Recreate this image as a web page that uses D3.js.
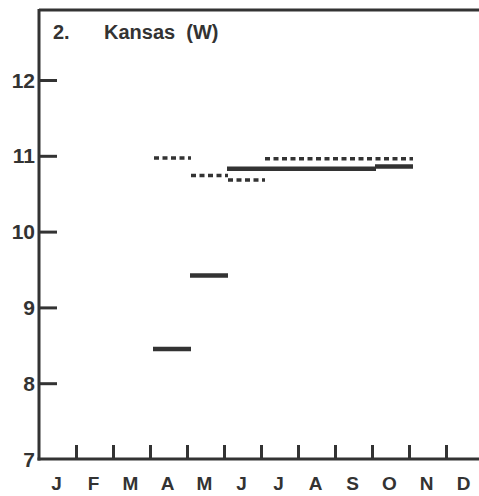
<!DOCTYPE html>
<html>
<head>
<meta charset="utf-8">
<title>Kansas (W)</title>
<script src="https://d3js.org/d3.v7.min.js"></script>
<style>
  body { margin: 0; background: #fff; }
  text { font-family: "Liberation Sans", Arial, sans-serif; font-weight: bold; fill: #333; }
  .axis line, .axis path { stroke: #333; }
</style>
</head>
<body>
<svg id="chart" width="479" height="496"></svg>
<script>
// month labels along the bottom
const months = ["J", "F", "M", "A", "M", "J", "J", "A", "S", "O", "N", "D"];
// y tick labels
const yTicks = [7, 8, 9, 10, 11, 12];
// solid series, one value per month (null = no data)
const solidValues = [null, null, null, 8.45, 9.42, 10.83, 10.83, 10.83, 10.83, 10.86, null, null];
// dotted series, one value per month
const dottedValues = [null, null, null, 10.97, 10.74, 10.68, 10.96, 10.96, 10.96, 10.96, null, null];

const svg = d3.select("#chart");
const ink = "#333";

const x = d3.scaleLinear().domain([0, 12]).range([39, 483]);
const y = d3.scaleLinear().domain([7, 12]).range([459, 80]);

// group consecutive months with the same value into one segment
function segments(values) {
  const out = [];
  values.forEach((v, i) => {
    if (v == null) return;
    const last = out[out.length - 1];
    if (last && last.end === i && last.v === v) last.end = i + 1;
    else out.push({ start: i, end: i + 1, v: v });
  });
  return out;
}

// frame: top line and left axis
svg.append("line")
  .attr("x1", x(0)).attr("x2", 479)
  .attr("y1", 10).attr("y2", 10)
  .attr("stroke", ink).attr("stroke-width", 3);

// left axis, ticks drawn inward
const yAxis = d3.axisRight(y).tickValues(yTicks.slice(1)).tickSize(18).tickFormat("");
const yg = svg.append("g").attr("class", "axis")
  .attr("transform", `translate(${x(0)},0)`)
  .call(yAxis);
yg.select(".domain").remove();
yg.selectAll("line").attr("stroke-width", 3);
svg.append("line")
  .attr("x1", x(0)).attr("x2", x(0))
  .attr("y1", 9).attr("y2", y(7) + 1.5)
  .attr("stroke", ink).attr("stroke-width", 3);

svg.selectAll(".ylab")
  .data(yTicks)
  .enter().append("text")
  .attr("class", "ylab")
  .attr("x", 35)
  .attr("y", d => y(d) + 7.5)
  .attr("text-anchor", "end")
  .attr("font-size", 21)
  .text(d => d);

// bottom axis, ticks pointing up
const xAxis = d3.axisTop(x).tickValues(d3.range(1, 12)).tickSize(14).tickFormat("");
const xg = svg.append("g").attr("class", "axis")
  .attr("transform", `translate(0,${y(7)})`)
  .call(xAxis);
xg.select(".domain").remove();
xg.selectAll("line").attr("stroke-width", 3);
svg.append("line")
  .attr("x1", x(0) - 1.5).attr("x2", 479)
  .attr("y1", y(7)).attr("y2", y(7))
  .attr("stroke", ink).attr("stroke-width", 3);

svg.selectAll(".mlab")
  .data(months)
  .enter().append("text")
  .attr("class", "mlab")
  .attr("x", (d, i) => x(i + 0.5) - 1)
  .attr("y", 490)
  .attr("text-anchor", "middle")
  .attr("font-size", 19)
  .text(d => d);

// title
svg.append("text").attr("x", 53).attr("y", 39).attr("font-size", 20).text("2.");
svg.append("text").attr("x", 104).attr("y", 39).attr("font-size", 20)
  .attr("xml:space", "preserve").text("Kansas  (W)");

// data segments
svg.selectAll(".solid")
  .data(segments(solidValues))
  .enter().append("line")
  .attr("class", "solid")
  .attr("x1", d => x(d.start) + 3).attr("x2", d => x(d.end) + 4)
  .attr("y1", d => y(d.v)).attr("y2", d => y(d.v))
  .attr("stroke", ink).attr("stroke-width", 4.5);

svg.selectAll(".dotted")
  .data(segments(dottedValues))
  .enter().append("line")
  .attr("class", "dotted")
  .attr("x1", d => x(d.start) + 4).attr("x2", d => x(d.end) + 4)
  .attr("y1", d => y(d.v)).attr("y2", d => y(d.v))
  .attr("stroke", ink).attr("stroke-width", 3.5)
  .attr("stroke-dasharray", "5,3.5");
</script>
</body>
</html>
